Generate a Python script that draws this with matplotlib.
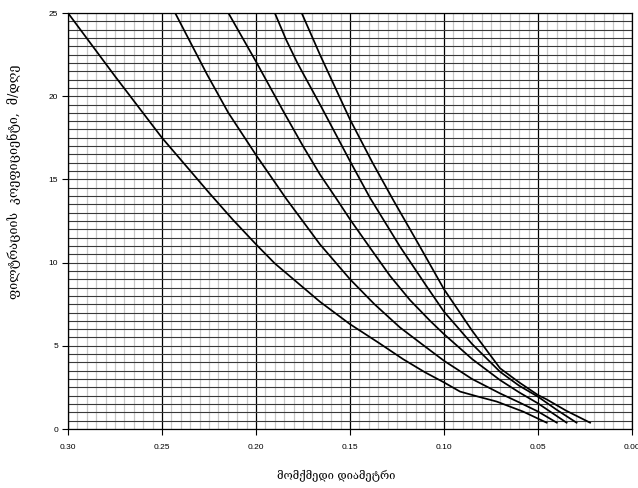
import numpy as np
import matplotlib
matplotlib.use("Agg")
import matplotlib.pyplot as plt
from matplotlib.ticker import MultipleLocator, FormatStrFormatter

# curves (diameter, filtration coefficient)
x1 = [0.300, 0.275, 0.250, 0.225, 0.2125, 0.200, 0.190, 0.178, 0.166, 0.150, 0.135, 0.1218, 0.110, 0.100, 0.0915, 0.082, 0.072, 0.058, 0.0454]
y1 = [25.0, 21.2, 17.5, 14.2, 12.6, 11.1, 9.95, 8.8, 7.65, 6.3, 5.2, 4.2, 3.4, 2.8, 2.25, 1.95, 1.65, 1.05, 0.38]

x2 = [0.243, 0.226, 0.2147, 0.1996, 0.1837, 0.166, 0.150, 0.137, 0.1234, 0.110, 0.100, 0.085, 0.0702, 0.060, 0.050, 0.040]
y2 = [25.0, 21.3, 19.0, 16.4, 13.8, 11.1, 9.0, 7.5, 6.1, 4.95, 4.1, 3.0, 2.14, 1.6, 1.05, 0.38]

x3 = [0.2147, 0.1996, 0.1855, 0.175, 0.166, 0.157, 0.150, 0.1394, 0.1287, 0.1181, 0.1074, 0.100, 0.085, 0.0702, 0.060, 0.050, 0.0348]
y3 = [25.0, 22.0, 19.1, 17.0, 15.3, 13.8, 12.6, 10.9, 9.2, 7.75, 6.5, 5.7, 4.2, 2.94, 2.2, 1.54, 0.38]

x4 = [0.190, 0.184, 0.178, 0.165, 0.150, 0.1394, 0.1234, 0.110, 0.100, 0.085, 0.0702, 0.060, 0.050, 0.040, 0.0295]
y4 = [25.0, 23.4, 22.0, 19.3, 16.1, 13.9, 10.96, 8.7, 7.05, 5.1, 3.44, 2.6, 1.94, 1.15, 0.38]

x5 = [0.1757, 0.166, 0.150, 0.138, 0.127, 0.1128, 0.100, 0.085, 0.0702, 0.060, 0.050, 0.0454, 0.035, 0.0223]
y5 = [25.0, 22.5, 18.6, 16.0, 13.76, 10.96, 8.4, 5.9, 3.65, 2.8, 2.04, 1.78, 1.1, 0.38]

curves = [(x1, y1), (x2, y2), (x3, y3), (x4, y4), (x5, y5)]

xlabel = "მომქმედი დიამეტრი"
ylabel = "ფილტრაციის  კოეფიციენტი,  მ/დღე"

fig = plt.figure(figsize=(6.38, 4.88), dpi=100)
ax = fig.add_axes([68/638, 59/488, 564/638, 416/488])

ax.set_xlim(0.30, 0.00)
ax.set_ylim(0, 25)

# grid like the old excel sheet
ax.xaxis.set_major_locator(MultipleLocator(0.05))
ax.xaxis.set_minor_locator(MultipleLocator(0.005))
ax.yaxis.set_major_locator(MultipleLocator(5))
ax.yaxis.set_minor_locator(MultipleLocator(0.5))
ax.grid(which="minor", axis="x", color="#c8c8c8", lw=0.9)
ax.grid(which="major", axis="x", color="black", lw=0.9)
ax.grid(which="both", axis="y", color="#383838", lw=0.8)
ax.set_axisbelow(True)

for xs, ys in curves:
    ax.plot(xs, ys, color="black", lw=1.25, solid_joinstyle="round")

ax.xaxis.set_major_formatter(FormatStrFormatter("%.2f"))
ax.tick_params(which="major", direction="out", length=4, width=0.8, labelsize=6,
               pad=7, labelfontfamily="Liberation Sans")
ax.tick_params(which="minor", length=0)
ax.tick_params(axis="y", pad=3)
for s in ax.spines.values():
    s.set_color("black")
    s.set_linewidth(0.9)

fig.text(336/638, 1 - 475/488, xlabel, ha="center", va="center", fontsize=8,
         family=["DejaVu Serif", "DejaVu Sans"])
fig.text(14/638, 1 - 182/488, ylabel, ha="center", va="center", rotation=90,
         fontsize=9, family=["DejaVu Serif", "DejaVu Sans"])

fig.savefig("out.png", dpi=100)
